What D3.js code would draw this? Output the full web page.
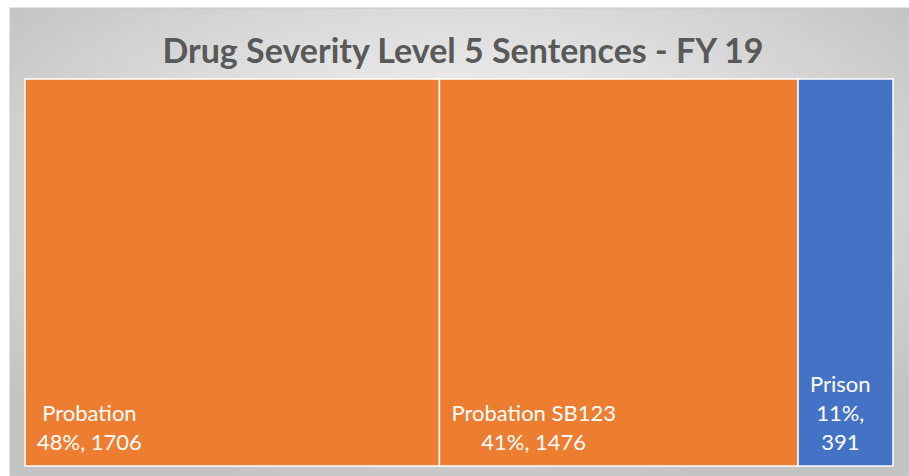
<!DOCTYPE html>
<html>
<head>
<meta charset="utf-8">
<script src="https://cdn.jsdelivr.net/npm/d3@7"></script>
<style>
  body { margin: 0; background: #fff; }
  svg { display: block; }
</style>
</head>
<body>
<svg id="chart" width="909" height="476"></svg>
<script>
// Treemap of sentence types
const categories = ["Probation", "Probation SB123", "Prison"];
const counts = [1706, 1476, 391];
const colors = ["#ED7D31", "#ED7D31", "#4472C4"];
const chartTitle = "Drug Severity Level 5 Sentences - FY 19";

const svg = d3.select("#chart");
const W = +svg.attr("width"), H = +svg.attr("height");
const fontFam = "Lato, 'Open Sans', sans-serif";

// background gradient like the office chart area
const defs = svg.append("defs");
const grad = defs.append("radialGradient")
    .attr("id", "bg")
    .attr("cx", "50%").attr("cy", "40%").attr("r", "65%");
grad.append("stop").attr("offset", "0%").attr("stop-color", "#ffffff");
grad.append("stop").attr("offset", "100%").attr("stop-color", "#c3c3c3");

svg.append("rect")
    .attr("x", 10).attr("y", 8)
    .attr("width", W - 10).attr("height", H - 8)
    .attr("fill", "url(#bg)")
    .attr("stroke", "#c8c8c8")
    .attr("stroke-width", 1);

svg.append("text")
    .attr("x", 463)
    .attr("y", 63)
    .attr("text-anchor", "middle")
    .attr("fill", "#595959")
    .attr("font-family", fontFam)
    .attr("font-weight", "bold")
    .attr("font-size", "34px")
    .text(chartTitle);

// plot area
const area = {x: 25, y: 79, w: 868, h: 387};

const root = d3.hierarchy({children: categories.map((c, i) => ({name: c, value: counts[i], color: colors[i]}))})
    .sum(d => d.value || 0);

d3.treemap()
    .tile(d3.treemapDice)
    .size([area.w, area.h])
    .round(false)(root);

const total = d3.sum(counts);
const pct = d3.format(".0%");

const g = svg.append("g")
    .attr("transform", "translate(" + area.x + "," + area.y + ")");

const cell = g.selectAll(".cell")
    .data(root.leaves())
    .enter().append("g")
    .attr("class", "cell");

cell.append("rect")
    .attr("x", d => d.x0)
    .attr("y", d => d.y0)
    .attr("width", d => d.x1 - d.x0)
    .attr("height", d => d.y1 - d.y0)
    .attr("fill", d => d.data.color)
    .attr("stroke", "#ffffff")
    .attr("stroke-width", 1.5);

const fontSize = 22, lineH = 29, pad = 12;

cell.each(function (d) {
    const sel = d3.select(this);
    const maxW = d.x1 - d.x0 - 2 * pad;
    const words = [d.data.name, pct(d.value / total) + ",", String(d.value)];
    // measure helper
    const probe = sel.append("text")
        .attr("font-family", fontFam)
        .attr("font-size", fontSize + "px");
    const measure = s => { probe.text(s); return probe.node().getComputedTextLength(); };
    let lines = [];
    const second = words[1] + " " + words[2];
    if (measure(words[0]) <= maxW && measure(second) <= maxW) {
        lines = [words[0], second];
    } else {
        lines = words;
    }
    const widest = d3.max(lines, measure);
    probe.remove();
    let cx = d.x0 + pad + widest / 2;
    if (cx + widest / 2 > d.x1 - 4) cx = (d.x0 + d.x1) / 2 - 6;
    const lastBase = d.y1 - 16;
    sel.append("text")
        .attr("fill", "#ffffff")
        .attr("font-family", fontFam)
        .attr("font-size", fontSize + "px")
        .attr("text-anchor", "middle")
        .selectAll("tspan")
        .data(lines)
        .enter().append("tspan")
        .attr("x", cx)
        .attr("y", (l, i) => lastBase - (lines.length - 1 - i) * lineH)
        .text(l => l);
});
</script>
</body>
</html>
